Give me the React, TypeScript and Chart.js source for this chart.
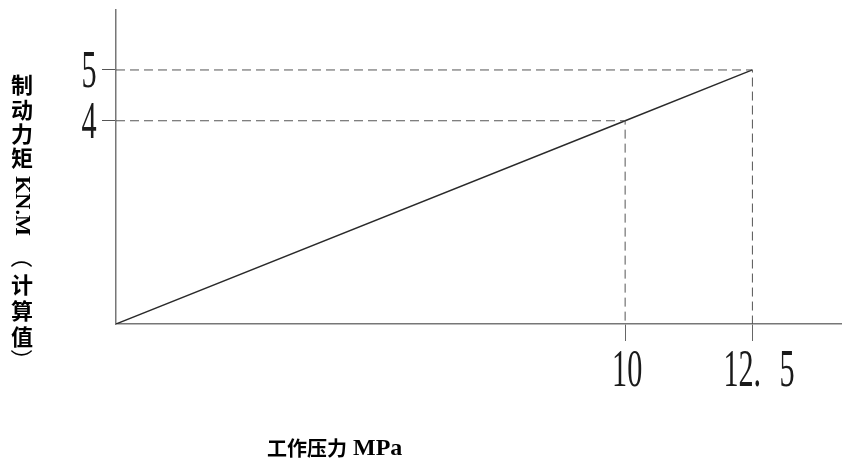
import React, { useEffect, useRef } from "react";
import { Chart, registerables } from "chart.js";

Chart.register(...registerables);

// ---- data ----
const pressure = [0, 10, 12.5]; // MPa
const torque = [0, 4, 5]; // KN.M
const xTicks = [10, 12.5];
const yTicks = [4, 5];
const xTickLabels = ["10", "12.5"];
const yTickLabels = ["4", "5"];
const xTitleCn = "工作压力";
const xTitleUnit = "MPa";
const yTitleTop = ["制", "动", "力", "矩"];
const yTitleUnit = "KN.M";
const yTitleBottom = ["（", "计", "算", "值", "）"];

const X_MAX = 14.24;
const Y_MAX = 6.18;

function drawNarrow(ctx: CanvasRenderingContext2D, t: string, x: number, y: number, align: CanvasTextAlign, sx = 0.57) {
  ctx.save();
  ctx.translate(x, y);
  ctx.scale(sx, 1);
  ctx.textAlign = align;
  ctx.fillText(t, 0, 0);
  ctx.restore();
}

const textPlugin = {
  id: "customTexts",
  afterDraw(chart: any) {
    const ctx: CanvasRenderingContext2D = chart.ctx;
    const xs = chart.scales.x;
    const ys = chart.scales.y;
    const area = chart.chartArea;
    ctx.save();
    ctx.fillStyle = "#1a1a1a";
    ctx.textBaseline = "alphabetic";
    ctx.font = '53px "Liberation Serif"';
    // y tick labels
    yTicks.forEach((v, i) => {
      const py = ys.getPixelForValue(v);
      drawNarrow(ctx, yTickLabels[i], area.left - 27, py + 17, "center");
    });
    // x tick labels
    xTicks.forEach((v, i) => {
      const px = xs.getPixelForValue(v);
      const lbl = xTickLabels[i];
      const by = area.bottom + 62;
      if (lbl.includes(".")) {
        const [a, b] = lbl.split(".");
        drawNarrow(ctx, a + ".", px - 29, by, "left");
        drawNarrow(ctx, b, px + 27, by, "left");
      } else {
        drawNarrow(ctx, lbl, px + 2, by, "center");
      }
    });

    // y title (vertical stack)
    const cx = 22;
    ctx.fillStyle = "#000";
    ctx.textAlign = "center";
    ctx.textBaseline = "middle";
    ctx.font = 'bold 22px "Noto Sans CJK SC"';
    const topYs = [85, 110, 134, 158];
    yTitleTop.forEach((c, i) => ctx.fillText(c, cx, topYs[i]));
    // KN.M rotated
    ctx.save();
    ctx.translate(cx + 1, 206);
    ctx.rotate(Math.PI / 2);
    ctx.font = 'bold 19px "Liberation Serif"';
    const w = ctx.measureText(yTitleUnit).width;
    ctx.scale(60 / w, 1.15);
    ctx.fillText(yTitleUnit, 0, 1);
    ctx.restore();
    const botYs = [257, 285, 311, 337, 360];
    yTitleBottom.forEach((c, i) => {
      if (c === "（" || c === "）") {
        ctx.save();
        ctx.translate(cx, botYs[i]);
        ctx.rotate(Math.PI / 2);
        ctx.font = '22px "Noto Sans CJK SC"';
        ctx.fillText(c, 0, 0);
        ctx.restore();
      } else {
        ctx.fillText(c, cx, botYs[i]);
      }
    });

    // x title
    ctx.textAlign = "left";
    ctx.textBaseline = "alphabetic";
    ctx.font = 'bold 20px "Noto Sans CJK SC"';
    const startX = 267;
    const baseY = 456;
    ctx.fillText(xTitleCn, startX, baseY);
    const cnW = ctx.measureText(xTitleCn).width;
    ctx.font = 'bold 24px "Liberation Serif"';
    ctx.fillText(xTitleUnit, startX + cnW + 6, baseY - 1);
    ctx.restore();
  },
};

export default function App() {
  const ref = useRef<HTMLCanvasElement | null>(null);
  useEffect(() => {
    if (!ref.current) return;
    const mainLine = pressure.map((x, i) => ({ x, y: torque[i] }));
    const guides = [1, 2].map((i) => ({
      data: [
        { x: 0, y: torque[i] },
        { x: pressure[i], y: torque[i] },
        { x: pressure[i], y: 0 },
      ],
      borderColor: "#555",
      borderWidth: 1,
      borderDash: [9, 5],
      showLine: true,
      pointRadius: 0,
      fill: false,
    }));
    const chart = new Chart(ref.current, {
      type: "scatter",
      data: {
        datasets: [
          ...guides,
          {
            data: mainLine,
            borderColor: "#2a2a2a",
            borderWidth: 1.4,
            showLine: true,
            pointRadius: 0,
            fill: false,
          },
        ] as any,
      },
      options: {
        animation: false,
        responsive: false,
        maintainAspectRatio: false,
        layout: { padding: { left: 0, top: 10, right: 9, bottom: 0 } },
        plugins: { legend: { display: false }, tooltip: { enabled: false } },
        scales: {
          x: {
            type: "linear",
            min: 0,
            max: X_MAX,
            afterBuildTicks: (s: any) => {
              s.ticks = xTicks.map((v) => ({ value: v }));
            },
            afterFit: (s: any) => {
              s.height = 143;
            },
            ticks: { display: false },
            grid: {
              display: true,
              drawOnChartArea: false,
              drawTicks: true,
              tickLength: 17,
              color: "#666",
              lineWidth: 1,
            },
            border: { display: true, color: "#777", width: 1.5 },
          },
          y: {
            type: "linear",
            min: 0,
            max: Y_MAX,
            afterBuildTicks: (s: any) => {
              s.ticks = yTicks.map((v) => ({ value: v }));
            },
            afterFit: (s: any) => {
              s.width = 116;
            },
            ticks: { display: false },
            grid: {
              display: true,
              drawOnChartArea: false,
              drawTicks: true,
              tickLength: 14,
              color: "#555",
              lineWidth: 1,
            },
            border: { display: true, color: "#777", width: 1.5 },
          },
        },
      },
      plugins: [textPlugin],
    });
    return () => chart.destroy();
  }, []);
  return (
    <div style={{ position: "absolute", left: 0, top: 0, width: 850, height: 467, background: "#fff" }}>
      <canvas ref={ref} width={850} height={467} />
    </div>
  );
}
